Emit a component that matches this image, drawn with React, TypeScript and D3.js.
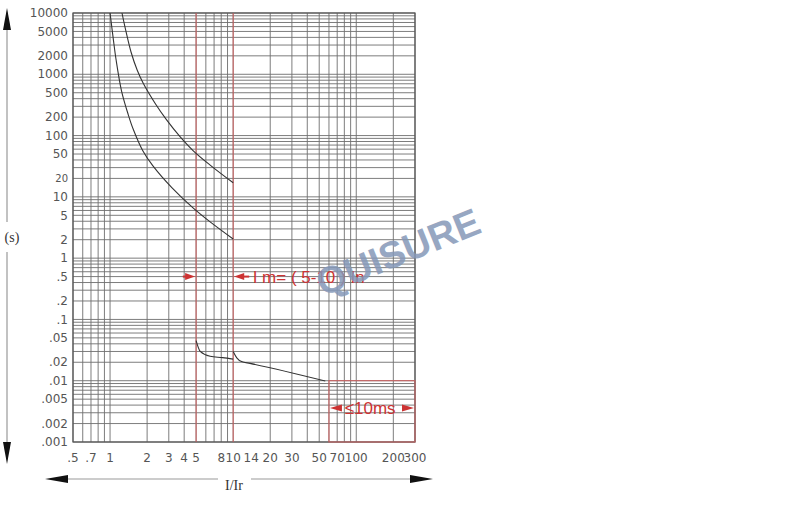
import { useEffect, useRef } from "react";
import * as d3 from "d3";

// axis ticks
const xTicks = [0.5, 0.7, 1, 2, 3, 4, 5, 8, 10, 14, 20, 30, 50, 70, 100, 200, 300];
const xTickLabels = [".5", ".7", "1", "2", "3", "4", "5", "8", "10", "14", "20", "30", "50", "70", "100", "200", "300"];
const yTicks = [10000, 5000, 2000, 1000, 500, 200, 100, 50, 20, 10, 5, 2, 1, 0.5, 0.2, 0.1, 0.05, 0.02, 0.01, 0.005, 0.002, 0.001];
const yTickLabels = ["10000", "5000", "2000", "1000", "500", "200", "100", "50", "20", "10", "5", "2", "1", ".5", ".2", ".1", ".05", ".02", ".01", ".005", ".002", ".001"];

// thermal trip band (I/Ir, seconds)
const upperI = [1.25, 1.35, 1.48, 1.66, 1.86, 2.32, 2.88, 3.7, 4.72, 6.5, 10];
const upperT = [10000, 4900, 2310, 1175, 713, 337, 180, 96, 57, 33, 17];
const lowerI = [1.0, 1.06, 1.12, 1.24, 1.4, 1.54, 1.85, 2.23, 3.19, 4.72, 6.5, 10];
const lowerT = [10000, 3900, 1710, 533, 225, 128, 56, 32, 14, 6.6, 3.9, 2.05];

// magnetic trip hooks
const hook1I = [5, 5.4, 6.5, 8.2, 10];
const hook1T = [0.045, 0.03, 0.025, 0.0238, 0.0225];
const hook2I = [10, 10.7, 11.7, 13.7, 56];
const hook2T = [0.03, 0.0236, 0.0205, 0.0192, 0.0099];

const redLinesI = [5, 10];
const instBoxI = [60, 300];
const instBoxT = [0.001, 0.01];

export default function App() {
  const svgRef = useRef<SVGSVGElement>(null);

  useEffect(() => {
    if (!svgRef.current) return;
    const svg = d3.select(svgRef.current);
    svg.selectAll("*").remove();

    const left = 73, right = 415, top = 13, bottom = 442;
    const x = d3.scaleLog().domain([0.5, 300]).range([left, right]);
    const y = d3.scaleLog().domain([0.001, 10000]).range([bottom, top]);

    const gray = "#6e6e6e";
    const red = "#cc3333";
    const labelFont = "'DejaVu Sans', sans-serif";

    // grid lines (log grid)
    const xGrid: number[] = [];
    for (let e = -1; e <= 2; e++)
      for (let m = 1; m <= 9; m++) {
        const v = m * Math.pow(10, e);
        if (v >= 0.5 && v <= 300) xGrid.push(v);
      }
    const yGrid: number[] = [];
    for (let e = -3; e <= 3; e++)
      for (let m = 1; m <= 9; m++) yGrid.push(m * Math.pow(10, e));
    yGrid.push(10000);

    const grid = svg.append("g");
    grid.selectAll("line.v")
      .data(xGrid)
      .enter()
      .append("line")
      .attr("x1", d => x(d)).attr("x2", d => x(d))
      .attr("y1", top).attr("y2", bottom)
      .attr("stroke", gray).attr("stroke-width", 0.9);
    grid.selectAll("line.h")
      .data(yGrid)
      .enter()
      .append("line")
      .attr("x1", left).attr("x2", right)
      .attr("y1", d => y(d)).attr("y2", d => y(d))
      .attr("stroke", gray).attr("stroke-width", 0.9);

    // frame
    svg.append("rect")
      .attr("x", left).attr("y", top)
      .attr("width", right - left).attr("height", bottom - top)
      .attr("fill", "none").attr("stroke", "#555").attr("stroke-width", 1.2);

    // red reference lines
    svg.selectAll("line.red")
      .data(redLinesI)
      .enter()
      .append("line")
      .attr("x1", d => x(d)).attr("x2", d => x(d))
      .attr("y1", top).attr("y2", bottom)
      .attr("stroke", "#d06060").attr("stroke-width", 1);
    svg.append("rect")
      .attr("x", x(instBoxI[0])).attr("y", y(instBoxT[1]))
      .attr("width", x(instBoxI[1]) - x(instBoxI[0]))
      .attr("height", y(instBoxT[0]) - y(instBoxT[1]))
      .attr("fill", "none").attr("stroke", "#d06060").attr("stroke-width", 1);

    // curves
    const smooth = d3.line<[number, number]>()
      .x(d => x(d[0]))
      .y(d => y(d[1]))
      .curve(d3.curveCatmullRom.alpha(0.5));
    const mono = d3.line<[number, number]>()
      .x(d => x(d[0]))
      .y(d => y(d[1]))
      .curve(d3.curveMonotoneX);
    const thermal = [d3.zip(upperI, upperT), d3.zip(lowerI, lowerT)] as [number, number][][];
    const magnetic = [d3.zip(hook1I, hook1T), d3.zip(hook2I, hook2T)] as [number, number][][];
    svg.selectAll("path.thermal")
      .data(thermal)
      .enter()
      .append("path")
      .attr("d", d => smooth(d))
      .attr("fill", "none")
      .attr("stroke", "#333")
      .attr("stroke-width", 1.1);
    svg.selectAll("path.magnetic")
      .data(magnetic)
      .enter()
      .append("path")
      .attr("d", d => mono(d))
      .attr("fill", "none")
      .attr("stroke", "#333")
      .attr("stroke-width", 1.1);

    // y tick labels
    svg.selectAll("text.ylab")
      .data(yTicks)
      .enter()
      .append("text")
      .attr("x", 68)
      .attr("y", d => y(d))
      .attr("dy", "0.35em")
      .attr("text-anchor", "end")
      .attr("font-family", labelFont)
      .attr("font-size", (d, i) => (yTickLabels[i] === "20" ? 10 : 12))
      .attr("fill", "#555")
      .text((d, i) => yTickLabels[i]);

    // x tick labels
    svg.selectAll("text.xlab")
      .data(xTicks)
      .enter()
      .append("text")
      .attr("x", d => x(d))
      .attr("y", 462)
      .attr("text-anchor", "middle")
      .attr("font-family", labelFont)
      .attr("font-size", 12)
      .attr("fill", "#555")
      .text((d, i) => xTickLabels[i]);

    // arrow helper: filled triangle head
    const head = (tipX: number, tipY: number, dir: "l" | "r" | "u" | "d", len: number, w: number, color: string) => {
      let pts: [number, number][];
      if (dir === "r") pts = [[tipX, tipY], [tipX - len, tipY - w / 2], [tipX - len, tipY + w / 2]];
      else if (dir === "l") pts = [[tipX, tipY], [tipX + len, tipY - w / 2], [tipX + len, tipY + w / 2]];
      else if (dir === "u") pts = [[tipX, tipY], [tipX - w / 2, tipY + len], [tipX + w / 2, tipY + len]];
      else pts = [[tipX, tipY], [tipX - w / 2, tipY - len], [tipX + w / 2, tipY - len]];
      svg.append("path").attr("d", "M" + pts.join("L") + "Z").attr("fill", color);
    };

    // y axis arrow and label
    svg.append("line").attr("x1", 7).attr("x2", 7).attr("y1", 20).attr("y2", 222)
      .attr("stroke", "#999").attr("stroke-width", 1.2);
    svg.append("line").attr("x1", 7).attr("x2", 7).attr("y1", 252).attr("y2", 455)
      .attr("stroke", "#999").attr("stroke-width", 1.2);
    head(7, 8, "u", 22, 8, "#111");
    head(7, 464, "d", 22, 8, "#111");
    svg.append("text").attr("x", 12).attr("y", 242)
      .attr("text-anchor", "middle")
      .attr("font-family", "'Liberation Serif', serif").attr("font-size", 14)
      .attr("fill", "#333").text("(s)");

    // x axis arrow and label
    svg.append("line").attr("x1", 60).attr("x2", 218).attr("y1", 479).attr("y2", 479)
      .attr("stroke", "#999").attr("stroke-width", 1.2);
    svg.append("line").attr("x1", 251).attr("x2", 420).attr("y1", 479).attr("y2", 479)
      .attr("stroke", "#999").attr("stroke-width", 1.2);
    head(45, 479, "l", 23, 8, "#111");
    head(433, 479, "r", 23, 8, "#111");
    svg.append("text").attr("x", 234).attr("y", 490)
      .attr("text-anchor", "middle")
      .attr("font-family", "'Liberation Serif', serif").attr("font-size", 14)
      .attr("fill", "#333").text("I/Ir");

    // Im annotation
    const yIm = y(0.5);
    svg.append("line").attr("x1", x(3.9)).attr("x2", x(5) - 6).attr("y1", yIm).attr("y2", yIm)
      .attr("stroke", red).attr("stroke-width", 2);
    head(x(5) - 1, yIm, "r", 10, 7, red);
    svg.append("line").attr("x1", x(10) + 6).attr("x2", x(13.5)).attr("y1", yIm).attr("y2", yIm)
      .attr("stroke", red).attr("stroke-width", 2);
    head(x(10) + 1, yIm, "l", 10, 7, red);
    svg.append("text").attr("x", x(14.4)).attr("y", yIm).attr("dy", "0.36em")
      .attr("font-family", "'Liberation Sans', Arial, sans-serif").attr("font-size", 17)
      .attr("fill", red).text("I m= ( 5-10 ) In");

    // ≤10ms annotation
    const yMs = y(0.0036);
    svg.append("line").attr("x1", x(instBoxI[0]) + 6).attr("x2", x(70)).attr("y1", yMs).attr("y2", yMs)
      .attr("stroke", red).attr("stroke-width", 2);
    head(x(instBoxI[0]) + 1, yMs, "l", 12, 7, red);
    svg.append("line").attr("x1", x(240)).attr("x2", x(instBoxI[1]) - 6).attr("y1", yMs).attr("y2", yMs)
      .attr("stroke", red).attr("stroke-width", 2);
    head(x(instBoxI[1]) - 1, yMs, "r", 12, 7, red);
    svg.append("text").attr("x", (x(70) + x(240)) / 2).attr("y", yMs).attr("dy", "0.36em")
      .attr("text-anchor", "middle")
      .attr("font-family", "'Liberation Sans', Arial, sans-serif").attr("font-size", 17)
      .attr("fill", red).text("≤10ms");

    // watermark
    svg.append("text")
      .attr("transform", "translate(398,252) rotate(-22)")
      .attr("text-anchor", "middle")
      .attr("dy", "0.35em")
      .attr("font-family", "'Liberation Sans', Arial, sans-serif")
      .attr("font-weight", "bold")
      .attr("font-size", 38)
      .attr("fill", "#8598b8")
      .attr("opacity", 0.85)
      .text("QUISURE");
  }, []);

  return (
    <svg
      ref={svgRef}
      width={800}
      height={505}
      style={{ position: "absolute", left: 0, top: 0, background: "#fff" }}
    />
  );
}
